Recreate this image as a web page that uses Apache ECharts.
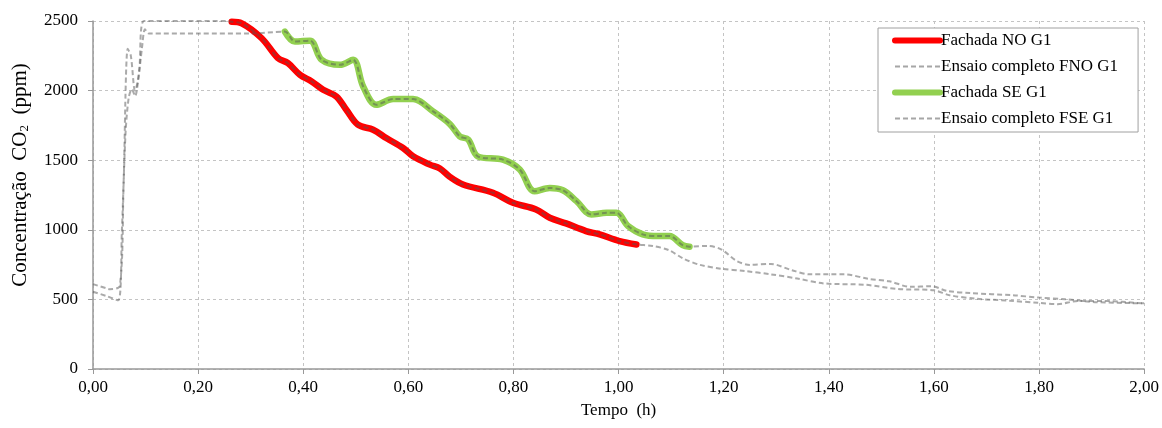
<!DOCTYPE html>
<html>
<head>
<meta charset="utf-8">
<script src="https://cdn.jsdelivr.net/npm/echarts@6/dist/echarts.min.js"></script>
<style>html,body{margin:0;padding:0;background:#fff}#c{width:1162px;height:428px}</style>
</head>
<body>
<div id="c"></div>
<script>
// ---- data (time in h, CO2 in ppm) ----
const fnoPreT = [0, 0.025, 0.048, 0.055, 0.062, 0.068, 0.074, 0.080, 0.088, 0.097, 0.18, 0.255];
const fnoPreV = [555, 525, 493, 1000, 1700, 1950, 2010, 1960, 2150, 2500, 2500, 2500];
const noT = [0.264, 0.283, 0.321, 0.352, 0.371, 0.394, 0.416, 0.438, 0.463, 0.482, 0.504, 0.533, 0.558, 0.590, 0.609, 0.641, 0.660, 0.679, 0.704, 0.761, 0.799, 0.843, 0.869, 0.900, 0.938, 0.964, 1.002, 1.034];
const noV = [2494, 2483, 2376, 2233, 2197, 2113, 2066, 2006, 1958, 1862, 1755, 1719, 1659, 1588, 1528, 1468, 1440, 1380, 1325, 1266, 1194, 1146, 1087, 1046, 991, 967, 919, 895];
const fnoPostT = [1.065, 1.095, 1.125, 1.155, 1.195, 1.24, 1.29, 1.34, 1.39, 1.47, 1.53, 1.60, 1.63, 1.68, 1.745, 1.80, 1.835, 1.875, 1.925, 2.0];
const fnoPostV = [884, 855, 790, 748, 720, 704, 680, 650, 615, 605, 575, 565, 530, 505, 490, 475, 466, 489, 489, 470];

const fsePreT = [0, 0.025, 0.032, 0.051, 0.058, 0.066, 0.072, 0.080, 0.086, 0.093, 0.099, 0.106, 0.2, 0.3];
const fsePreV = [610, 580, 573, 597, 1300, 2300, 2250, 2000, 2080, 2300, 2440, 2410, 2410, 2410];
const seT = [0.365, 0.384, 0.413, 0.435, 0.470, 0.495, 0.514, 0.539, 0.571, 0.609, 0.647, 0.679, 0.698, 0.714, 0.732, 0.780, 0.812, 0.840, 0.869, 0.894, 0.920, 0.948, 0.977, 0.996, 1.018, 1.046, 1.075, 1.097, 1.122, 1.135];
const seV = [2424, 2352, 2359, 2221, 2185, 2221, 2030, 1898, 1939, 1939, 1851, 1760, 1671, 1648, 1528, 1504, 1433, 1277, 1300, 1284, 1206, 1110, 1122, 1122, 1027, 967, 955, 955, 890, 879];
const fsePostT = [1.17, 1.195, 1.225, 1.25, 1.29, 1.33, 1.365, 1.43, 1.475, 1.515, 1.555, 1.595, 1.625, 1.67, 1.75, 1.80, 1.85, 1.91, 2.0];
const fsePostV = [884, 860, 776, 748, 755, 709, 680, 680, 648, 630, 590, 595, 561, 545, 530, 513, 501, 480, 472];

const xTicks = [0, 0.2, 0.4, 0.6, 0.8, 1.0, 1.2, 1.4, 1.6, 1.8, 2.0];
const yTicks = [0, 500, 1000, 1500, 2000, 2500];

const pairs = (t, v) => t.map((x, i) => [x, v[i]]);
const noData = pairs(noT, noV);
const seData = pairs(seT, seV);
const fnoData = pairs(fnoPreT, fnoPreV).concat(noData, pairs(fnoPostT, fnoPostV));
const fseData = pairs(fsePreT, fsePreV).concat(seData, pairs(fsePostT, fsePostV));

const FONT = "'Liberation Serif', 'Times New Roman', serif";
const dashGray = 'rgba(85,85,85,0.5)';
const legendGray = '#a6a6a6';
const hidden = {color: 'rgba(0,0,0,0)', borderWidth: 0, opacity: 0};

const chart = echarts.init(document.getElementById('c'), null, {renderer: 'canvas'});
chart.setOption({
  animation: false,
  backgroundColor: '#fff',
  textStyle: {fontFamily: FONT},
  grid: {left: 93, right: 17, top: 21, bottom: 59, containLabel: false},
  graphic: [{
    type: 'text', x: 20, y: 175, rotation: Math.PI / 2,
    style: {
      text: 'Concentração  CO{s|2}  (ppm)',
      font: "21px 'Liberation Serif'", fill: '#000',
      align: 'center', verticalAlign: 'middle',
      rich: {s: {font: "13px 'Liberation Serif'", fill: '#000', verticalAlign: 'bottom', padding: [10, 0, 0, 0]}}
    }
  }],
  legend: {
    orient: 'vertical',
    left: 878, top: 28,
    padding: [4, 20, 5, 14],
    itemGap: 9,
    itemWidth: 45,
    itemHeight: 15,
    borderColor: '#a0a0a0',
    borderWidth: 1,
    backgroundColor: '#fff',
    textStyle: {fontFamily: FONT, fontSize: 17, color: '#000', padding: [0, 0, 0, -4]},
    data: [
      {name: 'Fachada NO G1', itemStyle: hidden, lineStyle: {color: '#ff0000', width: 6, cap: 'round'}},
      {name: 'Ensaio completo FNO G1', itemStyle: hidden, lineStyle: {color: legendGray, width: 2, type: [5, 3]}},
      {name: 'Fachada SE G1', itemStyle: hidden, lineStyle: {color: '#92d050', width: 6, cap: 'round'}},
      {name: 'Ensaio completo FSE G1', itemStyle: hidden, lineStyle: {color: legendGray, width: 2, type: [5, 3]}}
    ]
  },
  xAxis: {
    type: 'value', min: 0, max: 2, interval: 0.2,
    name: 'Tempo  (h)', nameLocation: 'middle', nameGap: 33,
    nameTextStyle: {fontFamily: FONT, fontSize: 17, color: '#000'},
    axisLine: {show: true, lineStyle: {color: '#999', width: 1.5}},
    axisTick: {show: true, length: 5, lineStyle: {color: '#999'}},
    axisLabel: {fontFamily: FONT, fontSize: 17, color: '#000', margin: 10,
      formatter: v => xTicks.some(t => Math.abs(t - v) < 1e-9) ? v.toFixed(2).replace('.', ',') : ''},
    splitLine: {show: true, lineStyle: {color: '#c4c4c4', type: [3, 3], width: 1}}
  },
  yAxis: {
    type: 'value', min: 0, max: 2500, interval: 500,
    axisLine: {show: true, lineStyle: {color: '#999', width: 1.5}},
    axisTick: {show: true, length: 5, lineStyle: {color: '#999'}},
    axisLabel: {fontFamily: FONT, fontSize: 17, color: '#000', margin: 15,
      formatter: v => yTicks.includes(v) ? String(v) : ''},
    splitLine: {show: true, lineStyle: {color: '#c4c4c4', type: [3, 3], width: 1}}
  },
  series: [
    {name: 'Fachada NO G1', type: 'line', data: noData, symbol: 'none', smooth: 0.35, z: 2,
      lineStyle: {color: '#ff0000', width: 6.5, cap: 'round'}, itemStyle: {color: '#ff0000'}},
    {name: 'Ensaio completo FNO G1', type: 'line', data: fnoData, symbol: 'none', smooth: 0.3, z: 4,
      lineStyle: {color: dashGray, width: 2, type: [5, 3]}, itemStyle: {color: dashGray}},
    {name: 'Fachada SE G1', type: 'line', data: seData, symbol: 'none', smooth: 0.35, z: 2,
      lineStyle: {color: '#92d050', width: 6.5, cap: 'round'}, itemStyle: {color: '#92d050'}},
    {name: 'Ensaio completo FSE G1', type: 'line', data: fseData, symbol: 'none', smooth: 0.3, z: 4,
      lineStyle: {color: dashGray, width: 2, type: [5, 3]}, itemStyle: {color: dashGray}}
  ]
});
</script>
</body>
</html>
